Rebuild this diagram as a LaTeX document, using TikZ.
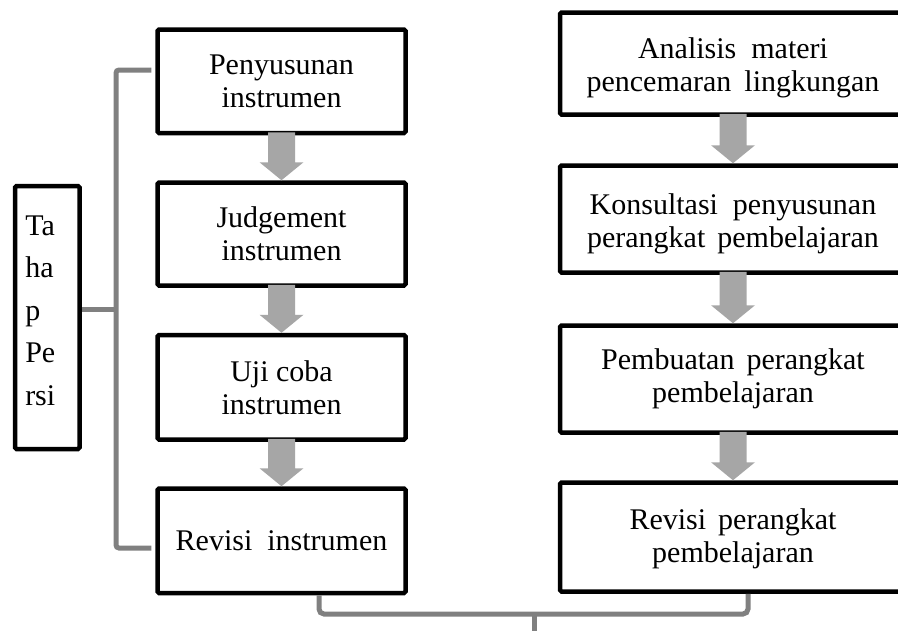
\documentclass[tikz,border=0pt]{standalone}
\usepackage{fontspec}
\setmainfont{Liberation Serif}
\usetikzlibrary{calc}
\definecolor{arrowgray}{HTML}{A6A6A6}
\definecolor{bracketgray}{HTML}{808080}
\tikzset{
  stepbox/.style={draw=black, line width=4.5pt, rounded corners=1.5pt, fill=white,
    align=center, inner sep=0pt, font=\fontsize{30}{33}\selectfont},
  bracket/.style={draw=bracketgray, line width=5pt},
  flowarrow/.style={fill=arrowgray, draw=none},
}
\newcommand\fatarrow[2]{%
  \fill[flowarrow] ($(#1.south)+(-13.5,-3)$) -- ($(#2.north)+(-13.5,-18)$)
    -- ($(#2.north)+(-22,-18)$) -- (#2.north) -- ($(#2.north)+(22,-18)$)
    -- ($(#2.north)+(13.5,-18)$) -- ($(#1.south)+(13.5,-3)$) -- cycle;}
\newcommand\gap[1]{\hspace{#1}}
\begin{document}
\begin{tikzpicture}[x=1pt, y=-1pt]
\useasboundingbox (0,0) rectangle (898,630);
\clip (0,0) rectangle (898,630);
\fill[white] (0,0) rectangle (898,630);

% left column
\node[stepbox, minimum width=248pt, minimum height=103.5pt] (b1) at (281.5,81.25) {Penyusunan\\instrumen};
\node[stepbox, minimum width=248pt, minimum height=103pt] (b2) at (281.5,234) {Judgement\\instrumen};
\node[stepbox, minimum width=248pt, minimum height=104.5pt] (b3) at (281.5,387.25) {Uji coba\\instrumen};
\node[stepbox, minimum width=248pt, minimum height=104.5pt] (b4) at (281.5,540.75) {Revisi\gap{15pt}instrumen};

% right column
\node[stepbox, minimum width=346pt, minimum height=102pt] (r1) at (733,63.5)
  {\rule{0pt}{29pt}Analisis\gap{15pt}materi\\pencemaran\gap{13pt}lingkungan};
\node[stepbox, minimum width=346pt, minimum height=107pt] (r2) at (733,219)
  {\rule{0pt}{31pt}Konsultasi\gap{15pt}penyusunan\\perangkat\gap{12pt}pembelajaran};
\node[stepbox, minimum width=346pt, minimum height=107pt] (r3) at (733,379)
  {Pembuatan\gap{12pt}perangkat\\pembelajaran};
\node[stepbox, minimum width=346pt, minimum height=109pt] (r4) at (733,537)
  {\rule{0pt}{25pt}Revisi\gap{12pt}perangkat\\pembelajaran};

% Tahap box
\node[stepbox, minimum width=64.5pt, minimum height=263pt, text width=44pt, align=left,
  font=\fontsize{30}{42.5}\selectfont] (tahap) at (47.25,317.5) {Ta\\ha\\p\\Pe\\rsi\\[-28.5pt]\mbox{}};

% bracket coordinates
\coordinate (s1) at ([xshift=-4pt,yshift=11.25pt]b1.west);
\coordinate (s4) at ([xshift=-4pt,yshift=-7.25pt]b4.west);
\coordinate (sm) at ([yshift=8.5pt]tahap.east);
\coordinate (bx) at (116,0);
\coordinate (d1) at ([xshift=37.5pt]b4.south);
\coordinate (d2) at ([xshift=15pt]r4.south);
\coordinate (tick) at (534,614);
\coordinate (tickend) at (534,634);

% bracket on the left
\draw[bracket, rounded corners=3pt] (s1) -- (bx |- s1) -- (bx |- s4) -- (s4);
\draw[bracket] (sm) -- (bx |- sm);

% bottom brace
\draw[bracket, rounded corners=5pt] (d1) -- (d1 |- tick) -- (d2 |- tick) -- (d2);
\draw[bracket] (tick) -- (tickend);

% arrows
\fatarrow{b1}{b2}
\fatarrow{b2}{b3}
\fatarrow{b3}{b4}
\fatarrow{r1}{r2}
\fatarrow{r2}{r3}
\fatarrow{r3}{r4}
\end{tikzpicture}
\end{document}
